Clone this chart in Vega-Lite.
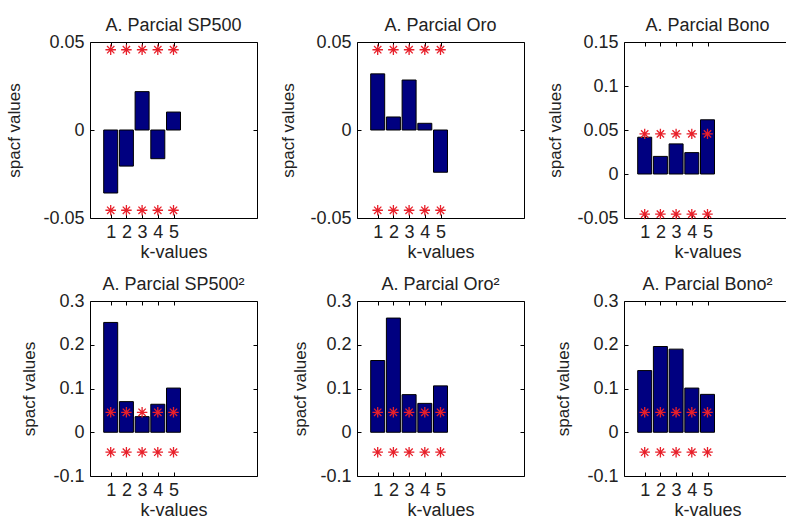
{
  "$schema": "https://vega.github.io/schema/vega-lite/v6.json",
  "padding": {"left": 5, "top": 16, "right": 0, "bottom": 0},
  "background": "white",
  "datasets": {
    "bars": [
      {"panel": "SP500", "k": 1, "v": -0.0358},
      {"panel": "SP500", "k": 2, "v": -0.0205},
      {"panel": "SP500", "k": 3, "v": 0.0218},
      {"panel": "SP500", "k": 4, "v": -0.0163},
      {"panel": "SP500", "k": 5, "v": 0.0102},
      {"panel": "Oro", "k": 1, "v": 0.0319},
      {"panel": "Oro", "k": 2, "v": 0.0074},
      {"panel": "Oro", "k": 3, "v": 0.0284},
      {"panel": "Oro", "k": 4, "v": 0.0038},
      {"panel": "Oro", "k": 5, "v": -0.024},
      {"panel": "Bono", "k": 1, "v": 0.0418},
      {"panel": "Bono", "k": 2, "v": 0.02},
      {"panel": "Bono", "k": 3, "v": 0.0342},
      {"panel": "Bono", "k": 4, "v": 0.0243},
      {"panel": "Bono", "k": 5, "v": 0.0616},
      {"panel": "SP500sq", "k": 1, "v": 0.251},
      {"panel": "SP500sq", "k": 2, "v": 0.07},
      {"panel": "SP500sq", "k": 3, "v": 0.0357},
      {"panel": "SP500sq", "k": 4, "v": 0.064},
      {"panel": "SP500sq", "k": 5, "v": 0.101},
      {"panel": "Orosq", "k": 1, "v": 0.164},
      {"panel": "Orosq", "k": 2, "v": 0.261},
      {"panel": "Orosq", "k": 3, "v": 0.086},
      {"panel": "Orosq", "k": 4, "v": 0.066},
      {"panel": "Orosq", "k": 5, "v": 0.106},
      {"panel": "Bonosq", "k": 1, "v": 0.141},
      {"panel": "Bonosq", "k": 2, "v": 0.196},
      {"panel": "Bonosq", "k": 3, "v": 0.19},
      {"panel": "Bonosq", "k": 4, "v": 0.101},
      {"panel": "Bonosq", "k": 5, "v": 0.0866}
    ],
    "stars": [
      {"k": 1, "b": 0.0456}, {"k": 2, "b": 0.0456}, {"k": 3, "b": 0.0456}, {"k": 4, "b": 0.0456}, {"k": 5, "b": 0.0456},
      {"k": 1, "b": -0.0456}, {"k": 2, "b": -0.0456}, {"k": 3, "b": -0.0456}, {"k": 4, "b": -0.0456}, {"k": 5, "b": -0.0456}
    ]
  },
  "columns": 3,
  "spacing": {"row": 83, "column": 100},
  "bounds": "flush",
  "concat": [
    {
      "width": 167, "height": 176,
      "title": "A. Parcial SP500",
      "resolve": {"axis": {"x": "independent", "y": "independent"}},
      "layer": [
        {"data": {"name": "bars"}, "transform": [{"filter": "datum.panel === 'SP500'"}],
         "mark": {"type": "bar", "width": 14, "fill": "#000080", "stroke": "#000", "strokeWidth": 1},
         "encoding": {
           "x": {"field": "k", "type": "quantitative", "scale": {"domain": [0, 10], "nice": false}, "axis": {"values": [1, 2, 3, 4, 5], "title": "k-values", "titlePadding": 2}},
           "y": {"field": "v", "type": "quantitative", "scale": {"domain": [-0.05, 0.05], "nice": false, "zero": false}, "axis": {"values": [-0.05, 0, 0.05], "title": "spacf values", "titlePadding": 19, "labelExpr": "datum.value < 0 ? '-' + format(-datum.value, '~g') : format(datum.value, '~g')"}}
         }},
        {"mark": {"type": "rule", "color": "#000", "strokeWidth": 1}, "encoding": {"y": {"datum": 0, "type": "quantitative", "axis": null}}},
        {"data": {"name": "stars"},
         "mark": {"type": "point", "shape": "M-1,0L1,0M0,-1L0,1M-0.7,-0.7L0.7,0.7M-0.7,0.7L0.7,-0.7", "filled": false, "stroke": "#e8202a", "strokeWidth": 1.3, "size": 110, "opacity": 1},
         "encoding": {
           "x": {"field": "k", "type": "quantitative", "axis": {"orient": "top", "values": [1, 2, 3, 4, 5], "labels": false, "title": null}},
           "y": {"field": "b", "type": "quantitative", "axis": {"orient": "right", "values": [-0.05, 0, 0.05], "labels": false, "title": null}}
         }}
      ]
    },
    {
      "width": 167, "height": 176,
      "title": "A. Parcial Oro",
      "resolve": {"axis": {"x": "independent", "y": "independent"}},
      "layer": [
        {"data": {"name": "bars"}, "transform": [{"filter": "datum.panel === 'Oro'"}],
         "mark": {"type": "bar", "width": 14, "fill": "#000080", "stroke": "#000", "strokeWidth": 1},
         "encoding": {
           "x": {"field": "k", "type": "quantitative", "scale": {"domain": [0, 10], "nice": false}, "axis": {"values": [1, 2, 3, 4, 5], "title": "k-values", "titlePadding": 2}},
           "y": {"field": "v", "type": "quantitative", "scale": {"domain": [-0.05, 0.05], "nice": false, "zero": false}, "axis": {"values": [-0.05, 0, 0.05], "title": "spacf values", "titlePadding": 12, "labelExpr": "datum.value < 0 ? '-' + format(-datum.value, '~g') : format(datum.value, '~g')"}}
         }},
        {"mark": {"type": "rule", "color": "#000", "strokeWidth": 1}, "encoding": {"y": {"datum": 0, "type": "quantitative", "axis": null}}},
        {"data": {"name": "stars"},
         "mark": {"type": "point", "shape": "M-1,0L1,0M0,-1L0,1M-0.7,-0.7L0.7,0.7M-0.7,0.7L0.7,-0.7", "filled": false, "stroke": "#e8202a", "strokeWidth": 1.3, "size": 110, "opacity": 1},
         "encoding": {
           "x": {"field": "k", "type": "quantitative", "axis": {"orient": "top", "values": [1, 2, 3, 4, 5], "labels": false, "title": null}},
           "y": {"field": "b", "type": "quantitative", "axis": {"orient": "right", "values": [-0.05, 0, 0.05], "labels": false, "title": null}}
         }}
      ]
    },
    {
      "width": 167, "height": 176,
      "title": "A. Parcial Bono",
      "resolve": {"axis": {"x": "independent", "y": "independent"}},
      "layer": [
        {"data": {"name": "bars"}, "transform": [{"filter": "datum.panel === 'Bono'"}],
         "mark": {"type": "bar", "width": 14, "fill": "#000080", "stroke": "#000", "strokeWidth": 1},
         "encoding": {
           "x": {"field": "k", "type": "quantitative", "scale": {"domain": [0, 10], "nice": false}, "axis": {"values": [1, 2, 3, 4, 5], "title": "k-values", "titlePadding": 2}},
           "y": {"field": "v", "type": "quantitative", "scale": {"domain": [-0.05, 0.15], "nice": false, "zero": false}, "axis": {"values": [-0.05, 0, 0.05, 0.1, 0.15], "title": "spacf values", "titlePadding": 12, "labelExpr": "datum.value < 0 ? '-' + format(-datum.value, '~g') : format(datum.value, '~g')"}}
         }},
        {"mark": {"type": "rule", "color": "#000", "strokeWidth": 1}, "encoding": {"y": {"datum": 0, "type": "quantitative", "axis": null}}},
        {"data": {"name": "stars"},
         "mark": {"type": "point", "shape": "M-1,0L1,0M0,-1L0,1M-0.7,-0.7L0.7,0.7M-0.7,0.7L0.7,-0.7", "filled": false, "stroke": "#e8202a", "strokeWidth": 1.3, "size": 110, "opacity": 1},
         "encoding": {
           "x": {"field": "k", "type": "quantitative", "axis": {"orient": "top", "values": [1, 2, 3, 4, 5], "labels": false, "title": null}},
           "y": {"field": "b", "type": "quantitative", "axis": {"orient": "right", "values": [-0.05, 0, 0.05, 0.1, 0.15], "labels": false, "title": null}}
         }}
      ]
    },
    {
      "width": 167, "height": 175,
      "title": "A. Parcial SP500²",
      "resolve": {"axis": {"x": "independent", "y": "independent"}},
      "layer": [
        {"data": {"name": "bars"}, "transform": [{"filter": "datum.panel === 'SP500sq'"}],
         "mark": {"type": "bar", "width": 14, "fill": "#000080", "stroke": "#000", "strokeWidth": 1},
         "encoding": {
           "x": {"field": "k", "type": "quantitative", "scale": {"domain": [0, 10], "nice": false}, "axis": {"values": [1, 2, 3, 4, 5], "title": "k-values", "titlePadding": 2}},
           "y": {"field": "v", "type": "quantitative", "scale": {"domain": [-0.1, 0.3], "nice": false, "zero": false}, "axis": {"values": [-0.1, 0, 0.1, 0.2, 0.3], "title": "spacf values", "titlePadding": 14, "labelExpr": "datum.value < 0 ? '-' + format(-datum.value, '~g') : format(datum.value, '~g')"}}
         }},
        {"mark": {"type": "rule", "color": "#000", "strokeWidth": 1}, "encoding": {"y": {"datum": 0, "type": "quantitative", "axis": null}}},
        {"data": {"name": "stars"},
         "mark": {"type": "point", "shape": "M-1,0L1,0M0,-1L0,1M-0.7,-0.7L0.7,0.7M-0.7,0.7L0.7,-0.7", "filled": false, "stroke": "#e8202a", "strokeWidth": 1.3, "size": 110, "opacity": 1},
         "encoding": {
           "x": {"field": "k", "type": "quantitative", "axis": {"orient": "top", "values": [1, 2, 3, 4, 5], "labels": false, "title": null}},
           "y": {"field": "b", "type": "quantitative", "axis": {"orient": "right", "values": [-0.1, 0, 0.1, 0.2, 0.3], "labels": false, "title": null}}
         }}
      ]
    },
    {
      "width": 167, "height": 175,
      "title": "A. Parcial Oro²",
      "resolve": {"axis": {"x": "independent", "y": "independent"}},
      "layer": [
        {"data": {"name": "bars"}, "transform": [{"filter": "datum.panel === 'Orosq'"}],
         "mark": {"type": "bar", "width": 14, "fill": "#000080", "stroke": "#000", "strokeWidth": 1},
         "encoding": {
           "x": {"field": "k", "type": "quantitative", "scale": {"domain": [0, 10], "nice": false}, "axis": {"values": [1, 2, 3, 4, 5], "title": "k-values", "titlePadding": 2}},
           "y": {"field": "v", "type": "quantitative", "scale": {"domain": [-0.1, 0.3], "nice": false, "zero": false}, "axis": {"values": [-0.1, 0, 0.1, 0.2, 0.3], "title": "spacf values", "titlePadding": 10, "labelExpr": "datum.value < 0 ? '-' + format(-datum.value, '~g') : format(datum.value, '~g')"}}
         }},
        {"mark": {"type": "rule", "color": "#000", "strokeWidth": 1}, "encoding": {"y": {"datum": 0, "type": "quantitative", "axis": null}}},
        {"data": {"name": "stars"},
         "mark": {"type": "point", "shape": "M-1,0L1,0M0,-1L0,1M-0.7,-0.7L0.7,0.7M-0.7,0.7L0.7,-0.7", "filled": false, "stroke": "#e8202a", "strokeWidth": 1.3, "size": 110, "opacity": 1},
         "encoding": {
           "x": {"field": "k", "type": "quantitative", "axis": {"orient": "top", "values": [1, 2, 3, 4, 5], "labels": false, "title": null}},
           "y": {"field": "b", "type": "quantitative", "axis": {"orient": "right", "values": [-0.1, 0, 0.1, 0.2, 0.3], "labels": false, "title": null}}
         }}
      ]
    },
    {
      "width": 167, "height": 175,
      "title": "A. Parcial Bono²",
      "resolve": {"axis": {"x": "independent", "y": "independent"}},
      "layer": [
        {"data": {"name": "bars"}, "transform": [{"filter": "datum.panel === 'Bonosq'"}],
         "mark": {"type": "bar", "width": 14, "fill": "#000080", "stroke": "#000", "strokeWidth": 1},
         "encoding": {
           "x": {"field": "k", "type": "quantitative", "scale": {"domain": [0, 10], "nice": false}, "axis": {"values": [1, 2, 3, 4, 5], "title": "k-values", "titlePadding": 2}},
           "y": {"field": "v", "type": "quantitative", "scale": {"domain": [-0.1, 0.3], "nice": false, "zero": false}, "axis": {"values": [-0.1, 0, 0.1, 0.2, 0.3], "title": "spacf values", "titlePadding": 14, "labelExpr": "datum.value < 0 ? '-' + format(-datum.value, '~g') : format(datum.value, '~g')"}}
         }},
        {"mark": {"type": "rule", "color": "#000", "strokeWidth": 1}, "encoding": {"y": {"datum": 0, "type": "quantitative", "axis": null}}},
        {"data": {"name": "stars"},
         "mark": {"type": "point", "shape": "M-1,0L1,0M0,-1L0,1M-0.7,-0.7L0.7,0.7M-0.7,0.7L0.7,-0.7", "filled": false, "stroke": "#e8202a", "strokeWidth": 1.3, "size": 110, "opacity": 1},
         "encoding": {
           "x": {"field": "k", "type": "quantitative", "axis": {"orient": "top", "values": [1, 2, 3, 4, 5], "labels": false, "title": null}},
           "y": {"field": "b", "type": "quantitative", "axis": {"orient": "right", "values": [-0.1, 0, 0.1, 0.2, 0.3], "labels": false, "title": null}}
         }}
      ]
    }
  ],
  "config": {
    "font": "Liberation Sans",
    "view": {"stroke": "#000", "strokeWidth": 1},
    "axis": {
      "grid": false,
      "domain": false,
      "ticks": true,
      "tickColor": "#000",
      "tickSize": -4,
      "labelFontSize": 18,
      "labelColor": "#222",
      "labelPadding": 10,
      "titleFontSize": 17,
      "titleFontWeight": "normal",
      "titleColor": "#222"
    },
    "axisX": {"titleFontSize": 18, "labelPadding": 9},
    "title": {"fontSize": 18, "fontWeight": "normal", "color": "#222", "offset": -2, "frame": "group", "baseline": "alphabetic"}
  }
}
